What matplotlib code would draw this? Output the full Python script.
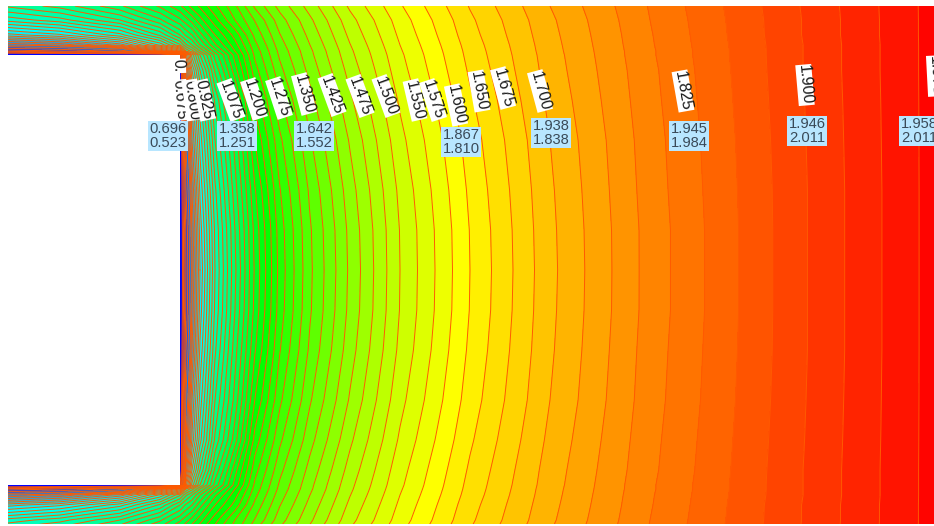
import numpy as np
import matplotlib
matplotlib.use("Agg")
import matplotlib.pyplot as plt
from matplotlib.colors import LinearSegmentedColormap, Normalize
from matplotlib.patches import Rectangle

plt.rcParams["font.family"] = ["Liberation Sans", "DejaVu Sans"]

# field, columns are pixel-like x, rows pixel-like y
xs = [8, 60, 120, 160, 180, 186, 192, 200, 215, 235, 255, 280, 310, 350, 400, 470, 550, 650, 800, 934]
ys = [6, 20, 35, 45, 51, 55, 70, 100, 140, 190, 230, 270, 310, 350, 400, 440, 470, 485, 489, 495, 505, 520, 534]

row_6 = [.93, .96, 1.02, 1.08, 1.12, 1.14, 1.16, 1.18, 1.22, 1.27, 1.33, 1.385, 1.436, 1.505, 1.572, 1.652, 1.725, 1.802, 1.90, 1.985]
row_20 = [.86, .89, .95, 1.02, 1.07, 1.09, 1.11, 1.14, 1.19, 1.25, 1.302, 1.364, 1.42, 1.491, 1.562, 1.645, 1.72, 1.80, 1.899, 1.985]
row_35 = [.74, .77, .84, .93, 1.00, 1.03, 1.05, 1.09, 1.15, 1.21, 1.282, 1.349, 1.408, 1.481, 1.555, 1.64, 1.717, 1.798, 1.899, 1.985]
row_45 = [.60, .63, .71, .83, .92, .97, 1.00, 1.05, 1.12, 1.19, 1.268, 1.339, 1.40, 1.474, 1.55, 1.636, 1.715, 1.797, 1.898, 1.985]
row_51 = [.42, .45, .52, .68, .78, .90, .94, 1.0, 1.09, 1.175, 1.26, 1.333, 1.395, 1.47, 1.547, 1.634, 1.714, 1.796, 1.898, 1.985]
row_55 = [.2, .2, .2, .2, .3, .74, .86, .95, 1.06, 1.16, 1.256, 1.33, 1.393, 1.468, 1.545, 1.633, 1.713, 1.796, 1.898, 1.985]
row_70 = [.2, .2, .2, .2, .2, .66, .80, .90, 1.03, 1.14, 1.24, 1.318, 1.384, 1.46, 1.54, 1.629, 1.711, 1.794, 1.898, 1.985]
row_100 = [.2, .2, .2, .2, .2, .60, .73, .84, .98, 1.09, 1.21, 1.295, 1.366, 1.445, 1.529, 1.621, 1.706, 1.792, 1.897, 1.985]
row_140 = [.2, .2, .2, .2, .2, .56, .70, .81, .95, 1.06, 1.176, 1.27, 1.347, 1.428, 1.517, 1.612, 1.70, 1.789, 1.896, 1.985]
row_190 = [.2, .2, .2, .2, .2, .50, .65, .78, .92, 1.04, 1.148, 1.249, 1.33, 1.414, 1.506, 1.605, 1.696, 1.787, 1.895, 1.985]
row_230 = [.2, .2, .2, .2, .2, .46, .63, .76, .905, 1.025, 1.134, 1.238, 1.322, 1.407, 1.501, 1.601, 1.694, 1.785, 1.895, 1.985]
row_270 = [.2, .2, .2, .2, .2, .45, .62, .75, .90, 1.02, 1.13, 1.235, 1.32, 1.405, 1.50, 1.60, 1.693, 1.785, 1.895, 1.985]

field = [row_6, row_20, row_35, row_45, row_51, row_55, row_70, row_100, row_140, row_190, row_230, row_270,
         row_230, row_190, row_140, row_100, row_70, row_55, row_51, row_45, row_35, row_20, row_6]

# the first one is all that can be read of a label buried under 0.675
contour_labels = ["0.", "0.675", "0.800", "0.925", "1.075", "1.200", "1.275", "1.350", "1.425", "1.475", "1.500",
                  "1.550", "1.575", "1.600", "1.650", "1.675", "1.700", "1.825", "1.900", "1.975"]
contour_label_x = [178, 180, 192, 204, 231, 254, 279, 304, 332, 360, 386, 415, 433, 456, 479, 503, 540, 683, 805, 935]
contour_label_y = [66, 100, 100, 100, 100, 99, 98, 94, 95, 96, 96, 100, 100, 105, 91, 88, 91, 91, 85, 76]
contour_label_rot = [-88, -85, -82, -78, -70, -72, -72, -75, -70, -70, -70, -77, -72, -78, -80, -75, -75, -80, -85, -87]

probe_labels = ["0.696\n0.523", "1.358\n1.251", "1.642\n1.552", "1.867\n1.810",
                "1.938\n1.838", "1.945\n1.984", "1.946\n2.011", "1.958\n2.011"]
probe_x = [168, 237, 314, 461, 551, 689, 807, 919]
probe_y = [136, 136, 136, 142, 133, 136, 131, 131]

cmap = LinearSegmentedColormap.from_list(
    "rainbow_field",
    [(0.0, "#0000ff"), (0.25, "#00ffff"), (0.5, "#00ff00"), (0.75, "#ffff00"), (1.0, "#ff0000")],
)
norm = Normalize(0.37, 2.0)
levels = np.concatenate([[0.1, 0.3], np.arange(0.35, 0.6, 0.05), np.arange(0.6, 2.05, 0.025)])

fig = plt.figure(figsize=(9.34, 5.26), dpi=100)
ax = fig.add_axes([8 / 934, 2 / 526, 926 / 934, 518 / 526])

ax.contourf(xs, ys, field, levels=levels, cmap=cmap, norm=norm, antialiased=False)
ax.contour(xs, ys, field, levels=levels, colors="#ff5a00", linewidths=0.7)

ax.add_patch(Rectangle((8, 55), 172, 430, facecolor="white", edgecolor="none", zorder=3))

ax.set_xlim(8, 934)
ax.set_ylim(524, 6)
ax.axis("off")

for lab, x, y, rot in zip(contour_labels, contour_label_x, contour_label_y, contour_label_rot):
    ax.text(x, y, lab, rotation=rot, rotation_mode="anchor", ha="center", va="center",
            fontsize=11.5, color="#1a1a1a", zorder=5, clip_on=False,
            bbox=dict(facecolor="white", edgecolor="none", pad=0.3))

for lab, x, y in zip(probe_labels, probe_x, probe_y):
    ax.text(x, y, lab, ha="center", va="center", fontsize=10.6, color="#3a4a58", linespacing=1.0,
            zorder=6, clip_on=False, bbox=dict(facecolor="#b8e6ff", edgecolor="none", pad=1.0))

fig.savefig("out.png", dpi=100)
